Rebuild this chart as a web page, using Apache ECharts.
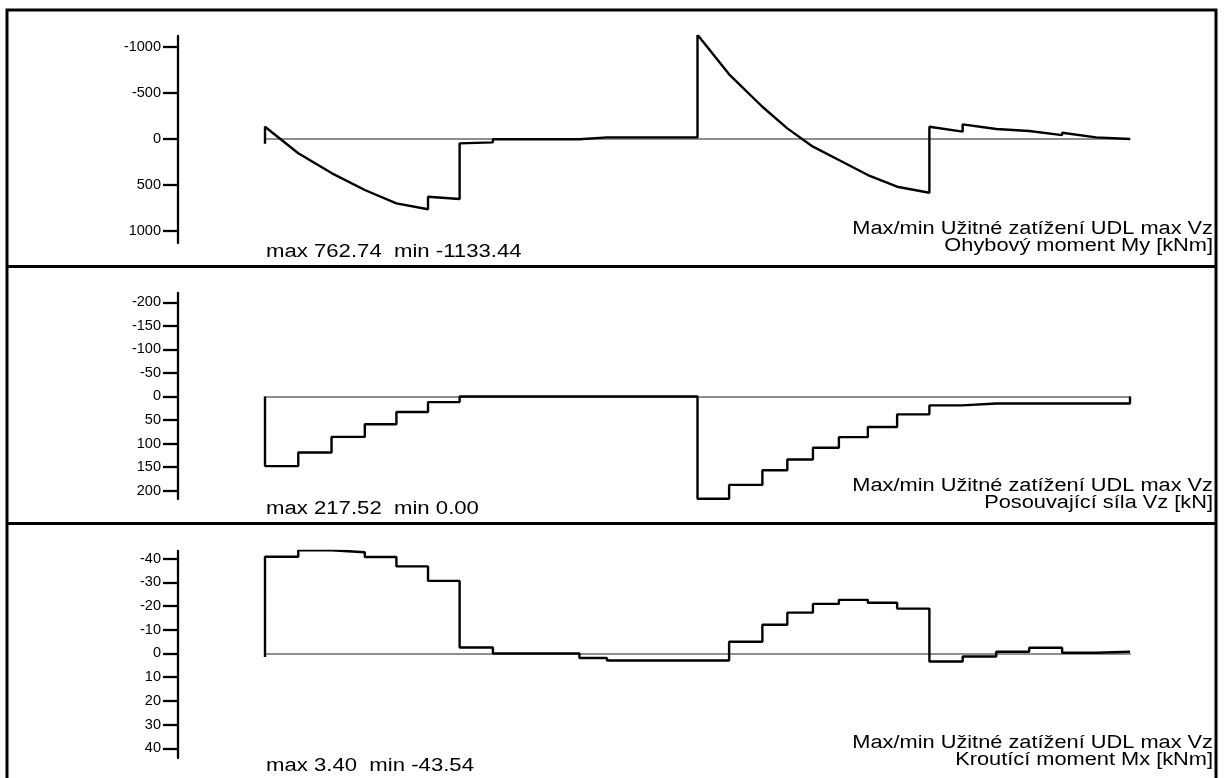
<!DOCTYPE html>
<html>
<head>
<meta charset="utf-8">
<script src="https://cdn.jsdelivr.net/npm/echarts@6/dist/echarts.min.js"></script>
<style>
  html, body { margin: 0; padding: 0; background: #fff; }
  #chart { width: 1225px; height: 778px; }
</style>
</head>
<body>
<div id="chart"></div>
<script>
// ---- Data (x stations in m along the member) ----
const stations = [0, 1, 2, 3, 3.95, 4.9, 5.85, 6.85, 7.75, 8.6, 9.45, 10.28, 11.03, 12.03, 13.0,
  13.95, 14.95, 15.7, 16.47, 17.25, 18.12, 19.0, 19.97, 20.97, 21.98, 22.97, 23.96, 24.98, 26.0];

// Bending moment My [kNm] – polyline points [x, value]
const myPoints = [
  [0, 50], [0, -134], [1, 155], [2, 370], [3, 554], [3.95, 699], [4.9, 762.74],
  [4.9, 627], [5.85, 652], [5.85, 47], [6.85, 36], [6.85, 2], [7.75, 2], [8.6, 2], [9.45, 2],
  [9.45, -18], [10.28, -18], [11.03, -18], [12.03, -18], [13.0, -18],
  [13.0, -1133.44], [13.95, -703], [14.95, -351], [15.7, -116], [16.47, 83], [17.25, 228],
  [18.12, 391], [19.0, 518], [19.97, 584],
  [19.97, -134], [20.97, -80], [20.97, -159], [21.98, -109], [22.97, -87], [23.96, -43],
  [23.96, -69], [24.98, -18], [26.0, 0]
];

// Shear force Vz [kN] – constant value per element
const vzValues = [148, 119, 86, 59, 33, 12, 0, 0, 0, 0, 0, 0, 0, 0,
  217.52, 188, 157, 134, 109, 86.5, 65, 38, 19, 15, 15, 15, 15, 15];

// Torsional moment Mx [kNm] – constant value per element
const mxValues = [-40.8, -43.54, -42.7, -40.7, -36.7, -30.6, -2.5, 0, 0, 0, 1.9, 3.0, 3.0, 3.0, 3.0,
  -4.9, -12.1, -17.2, -20.9, -22.6, -21.4, -18.9, 3.4, 1.3, -0.7, -2.4, -0.3, -0.7];

// Tick labels
const myTicks = [-1000, -500, 0, 500, 1000];
const vzTicks = [-200, -150, -100, -50, 0, 50, 100, 150, 200];
const mxTicks = [-40, -30, -20, -10, 0, 10, 20, 30, 40];

// Texts
const loadCaseText = 'Max/min Užitné zatížení UDL max Vz';
const quantityTexts = ['Ohybový moment My [kNm]', 'Posouvající síla Vz [kN]', 'Kroutící moment Mx [kNm]'];
const extremeTexts = ['max 762.74  min -1133.44', 'max 217.52  min 0.00', 'max 3.40  min -43.54'];

// ---- Build stepped polylines from element values ----
function stepPoints(values, startVal, endVal) {
  const pts = [[stations[0], startVal]];
  values.forEach((v, i) => {
    pts.push([stations[i], v]);
    pts.push([stations[i + 1], v]);
  });
  if (endVal !== undefined) pts.push([stations[stations.length - 1], endVal]);
  return pts;
}
const vzPoints = stepPoints(vzValues, 0, 0);
const mxPoints = stepPoints(mxValues, 1.5);

const FONT = '"Liberation Sans", Arial, sans-serif';

const panels = [
  { top: 36, height: 207, min: -1120, max: 1130, ticks: myTicks, data: myPoints },
  { top: 293, height: 206, min: -220, max: 218, ticks: vzTicks, data: vzPoints },
  { top: 551, height: 207, min: -43.2, max: 44.1, ticks: mxTicks, data: mxPoints }
];

const chart = echarts.init(document.getElementById('chart'), null, { renderer: 'canvas' });

const option = {
  animation: false,
  backgroundColor: '#fff',
  grid: panels.map(p => ({ left: 265, width: 865, top: p.top, height: p.height })),
  xAxis: panels.map((p, i) => ({
    type: 'value', gridIndex: i, min: 0, max: 26,
    axisLine: { show: true, onZero: true, lineStyle: { color: '#8f8f8f', width: 2 } },
    axisTick: { show: false }, axisLabel: { show: false }, splitLine: { show: false }
  })),
  yAxis: panels.map((p, i) => ({
    type: 'value', gridIndex: i, min: p.min, max: p.max, inverse: true,
    position: 'left', offset: 87,
    axisLine: { show: true, onZero: false, lineStyle: { color: '#000', width: 2.3 } },
    axisTick: { show: true, inside: false, length: 15, lineStyle: { color: '#000', width: 2.3 }, customValues: p.ticks },
    axisLabel: { show: true, margin: 17, color: '#000', fontSize: 14.5, fontFamily: FONT,
      customValues: p.ticks, formatter: v => String(v) },
    splitLine: { show: false }
  })),
  series: panels.map((p, i) => ({
    type: 'line', xAxisIndex: i, yAxisIndex: i, data: p.data,
    symbol: 'none', lineStyle: { color: '#000', width: 2.4 }, z: 5
  })),
  graphic: [
    { type: 'rect', shape: { x: 7, y: 10, width: 1209, height: 800 },
      style: { fill: 'none', stroke: '#000', lineWidth: 3 }, silent: true },
    { type: 'line', shape: { x1: 6, y1: 266.5, x2: 1217, y2: 266.5 },
      style: { stroke: '#000', lineWidth: 3 }, silent: true },
    { type: 'line', shape: { x1: 6, y1: 523.5, x2: 1217, y2: 523.5 },
      style: { stroke: '#000', lineWidth: 3 }, silent: true }
  ]
};

const panelOffsets = [0, 257, 514];
panelOffsets.forEach((off, i) => {
  option.graphic.push({
    type: 'text', x: 1213, y: 229 + off, scaleX: 1.21, silent: true,
    style: { text: loadCaseText, font: '18px ' + FONT, fill: '#000', textAlign: 'right', textVerticalAlign: 'middle' }
  });
  option.graphic.push({
    type: 'text', x: 1213, y: 246 + off, scaleX: 1.21, silent: true,
    style: { text: quantityTexts[i], font: '18px ' + FONT, fill: '#000', textAlign: 'right', textVerticalAlign: 'middle' }
  });
  option.graphic.push({
    type: 'text', x: 266, y: 252 + off, scaleX: 1.23, silent: true,
    style: { text: extremeTexts[i], font: '18px ' + FONT, fill: '#000', textAlign: 'left', textVerticalAlign: 'middle' }
  });
});

chart.setOption(option);
</script>
</body>
</html>
